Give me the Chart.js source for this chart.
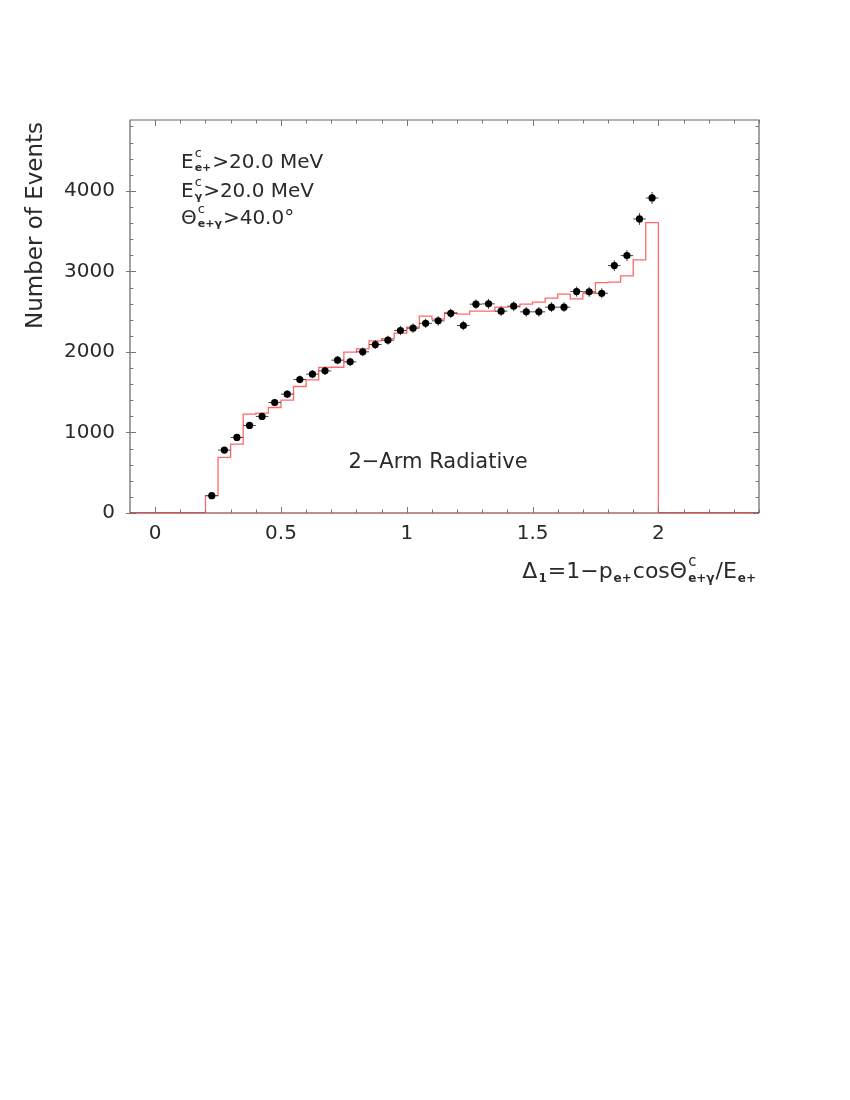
<!DOCTYPE html>
<html><head><meta charset="utf-8">
<script src="https://cdn.jsdelivr.net/npm/chart.js@4/dist/chart.umd.min.js"></script>
<style>html,body{margin:0;padding:0;background:#fff;} #wrap{position:absolute;left:0;top:0;width:850px;height:1100px;}</style>
</head><body><div id="wrap"><canvas id="c" width="850" height="1100"></canvas></div>
<script>
// ---- data ----
const binLowEdges = [0.20,0.25,0.30,0.35,0.40,0.45,0.50,0.55,0.60,0.65,0.70,0.75,0.80,0.85,0.90,0.95,1.00,1.05,1.10,1.15,1.20,1.25,1.30,1.35,1.40,1.45,1.50,1.55,1.60,1.65,1.70,1.75,1.80,1.85,1.90,1.95];
const binUpperEnd = 2.00;
const mcCounts = [215,690,856,1228,1240,1310,1402,1571,1654,1807,1810,1998,2038,2138,2166,2233,2307,2444,2407,2489,2469,2506,2506,2556,2560,2593,2618,2667,2717,2659,2729,2861,2866,2944,3143,3606];
const dataCenters = [0.225,0.275,0.325,0.375,0.425,0.475,0.525,0.575,0.625,0.675,0.725,0.775,0.825,0.875,0.925,0.975,1.025,1.075,1.125,1.175,1.225,1.275,1.325,1.375,1.425,1.475,1.525,1.575,1.625,1.675,1.725,1.775,1.825,1.875,1.925,1.975];
const dataCounts = [215,781,938,1087,1199,1372,1476,1658,1724,1765,1898,1877,2001,2092,2146,2266,2295,2355,2386,2479,2328,2593,2597,2506,2568,2498,2498,2556,2556,2750,2746,2729,3072,3196,3651,3912];
const dataErrors = [18,34,37,40,42,44,46,49,50,50,52,52,54,55,56,57,57,58,59,60,58,61,61,60,61,60,60,61,61,63,63,63,67,68,73,75];
const dataHalfWidth = 0.025;
const xTickValues = [0,0.5,1,1.5,2];
const yTickValues = [0,1000,2000,3000,4000];
const xMinorStep = 0.1;
const yMinorStep = 200;
const xRange = [-0.1, 2.4];
const yRange = [0, 4880];

const FONT = '"DejaVu Sans", "Liberation Sans", sans-serif';
const TXT = '#2a2a2a';

// histogram path (step) built from the bin arrays
const histPoints = [{x:xRange[0], y:0}];
binLowEdges.forEach((e,i)=>histPoints.push({x:e, y:mcCounts[i]}));
histPoints.push({x:binUpperEnd, y:0});
histPoints.push({x:xRange[1], y:0});

const dataPoints = dataCenters.map((c,i)=>({x:c, y:dataCounts[i]}));

function drawRich(ctx, x, y, parts, align, size) {
  const main = `${size}px ${FONT}`;
  const supF = `${Math.round(size*0.66)}px ${FONT}`;
  const subF = `bold ${Math.round(size*0.55)}px ${FONT}`;
  const widths = parts.map(p => {
    if (p.t !== undefined) { ctx.font = main; return ctx.measureText(p.t).width; }
    let w = 0;
    if (p.sup) { ctx.font = supF; w = Math.max(w, ctx.measureText(p.sup).width); }
    if (p.sub) { ctx.font = subF; w = Math.max(w, ctx.measureText(p.sub).width); }
    return w + 2;
  });
  const total = widths.reduce((a,b)=>a+b,0);
  let cx = align === 'right' ? x - total : (align === 'center' ? x - total/2 : x);
  ctx.textAlign = 'left'; ctx.textBaseline = 'alphabetic'; ctx.fillStyle = TXT;
  parts.forEach((p,i) => {
    if (p.t !== undefined) { ctx.font = main; ctx.fillText(p.t, cx, y); }
    else {
      if (p.sup) { ctx.font = supF; ctx.fillText(p.sup, cx + 1, y - size*0.55); }
      if (p.sub) { ctx.font = subF; ctx.fillText(p.sub, cx + 1, y + size*0.17); }
    }
    cx += widths[i];
  });
}

const decorPlugin = {
  id: 'decor',
  beforeDatasetDraw(chart, args) {
    if (args.index !== 0) return;
    const {ctx, scales:{x, y}} = chart;
    ctx.save();
    ctx.strokeStyle = '#444'; ctx.lineWidth = 1;
    dataCenters.forEach((c,i) => {
      const px = x.getPixelForValue(c), py = y.getPixelForValue(dataCounts[i]);
      ctx.beginPath();
      ctx.moveTo(x.getPixelForValue(c - dataHalfWidth), py);
      ctx.lineTo(x.getPixelForValue(c + dataHalfWidth), py);
      ctx.moveTo(px, y.getPixelForValue(dataCounts[i] - dataErrors[i]));
      ctx.lineTo(px, y.getPixelForValue(dataCounts[i] + dataErrors[i]));
      ctx.stroke();
    });
    ctx.restore();
  },
  afterDatasetsDraw(chart) {
    const {ctx, chartArea:a, scales:{x, y}} = chart;
    ctx.save();
    ctx.lineWidth = 1.2;
    ctx.strokeStyle = '#666';
    ctx.beginPath();
    ctx.moveTo(a.left, a.bottom); ctx.lineTo(a.left, a.top); ctx.lineTo(a.right, a.top); ctx.lineTo(a.right, a.bottom);
    ctx.stroke();
    ctx.strokeStyle = '#8a1a1a';
    ctx.beginPath(); ctx.moveTo(a.left, a.bottom); ctx.lineTo(a.right, a.bottom); ctx.stroke();
    // ticks, inward on all four sides
    ctx.strokeStyle = '#777'; ctx.lineWidth = 1;
    ctx.beginPath();
    for (let v = 0; v <= xRange[1] + 1e-9; v += xMinorStep) {
      const vv = Math.round(v*10)/10;
      const major = xTickValues.some(t => Math.abs(t - vv) < 1e-6);
      const L = major ? 6 : 3.5;
      const px = Math.round(x.getPixelForValue(vv)) + 0.5;
      ctx.moveTo(px, a.bottom); ctx.lineTo(px, a.bottom - L);
      ctx.moveTo(px, a.top); ctx.lineTo(px, a.top + L);
    }
    for (let v = 0; v <= yRange[1]; v += yMinorStep) {
      const major = yTickValues.includes(v);
      const L = major ? 6 : 3.5;
      const py = Math.round(y.getPixelForValue(v)) + 0.5;
      ctx.moveTo(a.left - (major ? 4 : 0), py); ctx.lineTo(a.left + L, py);
      ctx.moveTo(a.right, py); ctx.lineTo(a.right - L, py);
    }
    ctx.stroke();
    ctx.restore();
  },
  afterDraw(chart) {
    const {ctx} = chart;
    ctx.save();
    // y title
    ctx.save();
    ctx.translate(42, 122);
    ctx.rotate(-Math.PI/2);
    ctx.font = `23px ${FONT}`; ctx.fillStyle = TXT; ctx.textAlign = 'right'; ctx.textBaseline = 'alphabetic';
    ctx.fillText('Number of Events', 0, 0);
    ctx.restore();
    // x title
    drawRich(ctx, 757, 578, [
      {t:'\u0394'}, {sub:'1'}, {t:'=1\u2212p'}, {sub:'e+'}, {t:'cos\u0398'}, {sup:'c', sub:'e+\u03b3'}, {t:'/E'}, {sub:'e+'}
    ], 'right', 22);
    // cut annotations
    drawRich(ctx, 181, 168, [{t:'E'}, {sup:'c', sub:'e+'}, {t:'>20.0 MeV'}], 'left', 20);
    drawRich(ctx, 181, 197, [{t:'E'}, {sup:'c', sub:'\u03b3'}, {t:'>20.0 MeV'}], 'left', 20);
    drawRich(ctx, 181, 224, [{t:'\u0398'}, {sup:'c', sub:'e+\u03b3'}, {t:'>40.0\u00b0'}], 'left', 20);
    // label
    ctx.font = `21px ${FONT}`; ctx.fillStyle = TXT; ctx.textAlign = 'center'; ctx.textBaseline = 'alphabetic';
    ctx.fillText('2\u2212Arm Radiative', 438, 468);
    ctx.restore();
  }
};

new Chart(document.getElementById('c'), {
  type: 'scatter',
  data: {
    datasets: [
      { label: 'data', data: dataPoints, backgroundColor: '#000', borderColor: '#000', pointRadius: 3.6, pointBorderWidth: 0, showLine: false },
      { label: 'MC', type: 'line', data: histPoints, stepped: 'before', borderColor: '#ff6a6a', borderWidth: 1.3, pointRadius: 0, fill: false, tension: 0 }
    ]
  },
  options: {
    responsive: false, animation: false, devicePixelRatio: 1,
    layout: { padding: { left: 0, top: 120, right: 91, bottom: 0 } },
    plugins: { legend: { display: false }, tooltip: { enabled: false }, title: { display: false } },
    scales: {
      x: {
        type: 'linear', min: xRange[0], max: xRange[1],
        grid: { display: false, drawTicks: false }, border: { display: false },
        afterBuildTicks: s => { s.ticks = xTickValues.map(v => ({value: v})); },
        afterFit: s => { s.height = 587; },
        ticks: { font: { family: FONT, size: 20 }, color: TXT, padding: 9, maxRotation: 0, autoSkip: false, callback: v => String(v) }
      },
      y: {
        type: 'linear', min: yRange[0], max: yRange[1],
        grid: { display: false, drawTicks: false }, border: { display: false },
        afterBuildTicks: s => { s.ticks = yTickValues.map(v => ({value: v})); },
        afterFit: s => { s.width = 130; },
        ticks: { font: { family: FONT, size: 20 }, color: TXT, padding: 15, autoSkip: false, callback: v => String(v) }
      }
    }
  },
  plugins: [decorPlugin]
});
</script>
</body></html>
